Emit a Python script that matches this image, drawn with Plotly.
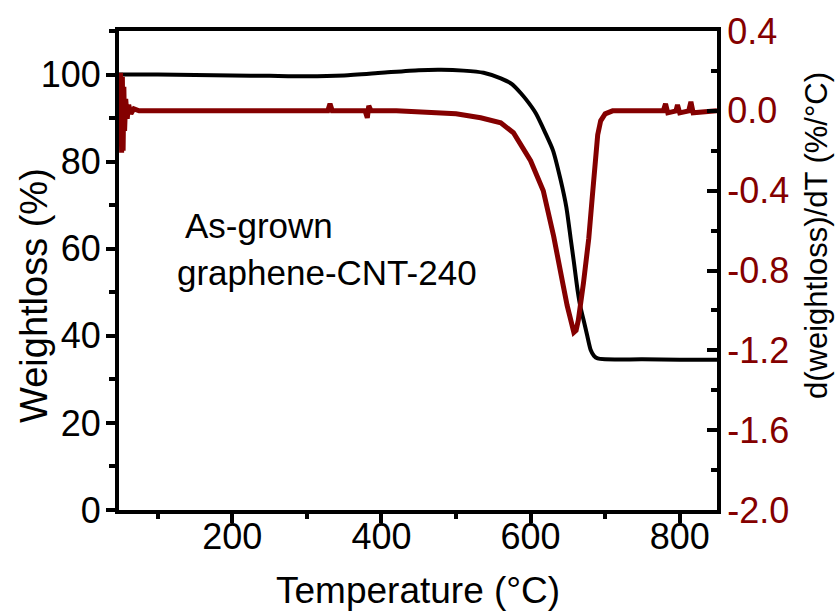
import plotly.graph_objects as go

# TGA weight curve (left axis)
temp_w = [48, 100, 150, 200, 250, 300, 350, 400, 450, 480, 510, 537, 560, 575,
          587, 597, 607, 620, 630, 640, 648, 654, 658, 663, 667, 671, 676, 680.5,
          685, 690, 700, 750, 800, 850]
weight = [100.0, 100.0, 99.9, 99.8, 99.7, 99.6, 99.8, 100.4, 101.0, 101.1, 100.9,
          100.4, 99.1, 97.8, 95.7, 93.6, 91.1, 86.5, 82.6, 76.0, 69.5, 62.0, 57.0,
          50.5, 46.5, 43.7, 40.0, 36.8, 35.4, 34.8, 34.6, 34.6, 34.5, 34.5]

# Derivative curve (right axis)
temp_d = [48, 50, 51.5, 52.5, 53.5, 54.5, 55.5, 57, 59, 61, 64, 68, 75, 100, 150,
          200, 250, 300, 328, 331, 334, 378, 381, 383, 386, 420, 463, 500, 533,
          560, 577, 591, 600, 617, 631, 644, 647, 649, 652, 655, 658, 661, 664,
          671, 678, 683, 687, 690, 694, 700, 710, 750, 778, 781, 784, 795, 797,
          800, 812, 815, 818, 850]
deriv = [-0.05, 0.19, -0.21, 0.17, -0.2, 0.12, -0.1, 0.06, -0.04, 0.03, -0.015,
         0.01, 0.0, 0.0, 0.002, 0.0, 0.0, 0.0, 0.0, 0.035, 0.0, 0.0, -0.035, 0.025,
         0.0, 0.0, -0.005, -0.015, -0.035, -0.06, -0.11, -0.19, -0.25, -0.4,
         -0.63, -0.88, -0.96, -0.975, -1.02, -1.07, -1.11, -1.1, -1.05, -0.86,
         -0.64, -0.42, -0.22, -0.12, -0.05, -0.015, 0.0, 0.0, 0.0, 0.035, -0.01,
         0.0, 0.03, -0.01, 0.0, 0.045, -0.01, 0.0]

x_ticks = [200, 400, 600, 800]
left_ticks = [0, 20, 40, 60, 80, 100]
right_ticks = [-2.0, -1.6, -1.2, -0.8, -0.4, 0.0, 0.4]

DARK_RED = "#840000"
FONT = "Liberation Sans, Arial, sans-serif"

W, H = 837, 612
ML, MR, MT, MB = 119, 120, 31, 102

fig = go.Figure()
fig.add_trace(go.Scatter(x=temp_w, y=weight, mode="lines",
                         line=dict(color="black", width=4, shape="spline", smoothing=0.6),
                         yaxis="y", showlegend=False))
fig.add_trace(go.Scatter(x=temp_d, y=deriv, mode="lines",
                         line=dict(color=DARK_RED, width=5),
                         yaxis="y2", showlegend=False))

axis_common = dict(showline=True, linecolor="black", linewidth=4, showgrid=False,
                   zeroline=False, tickcolor="black", tickwidth=3.5)

TICK_SIZE = 36
fig.update_layout(
    width=W, height=H,
    margin=dict(l=ML, r=MR, t=MT, b=MB),
    paper_bgcolor="white", plot_bgcolor="white",
    font=dict(family=FONT, color="black", size=TICK_SIZE),
    xaxis=dict(range=[48, 850], tickvals=x_ticks, ticks="outside", ticklen=9,
               mirror=True, ticklabelstandoff=-17,
               minor=dict(dtick=100, tick0=0, ticks="outside", ticklen=5,
                          tickwidth=3.5, tickcolor="black"),
               tickfont=dict(size=TICK_SIZE), **axis_common),
    yaxis=dict(range=[0, 110], tickvals=left_ticks, ticks="outside", ticklen=9,
               ticklabelstandoff=-2,
               minor=dict(dtick=10, tick0=0, ticks="outside", ticklen=6,
                          tickwidth=3.5, tickcolor="black"),
               tickfont=dict(size=TICK_SIZE), **axis_common),
    yaxis2=dict(range=[-2.0, 0.4], tickvals=right_ticks,
                ticktext=[f"{v:.1f}" for v in right_ticks],
                overlaying="y", side="right", ticks="inside", ticklen=10,
                ticklabelstandoff=-1,
                minor=dict(dtick=0.2, tick0=0, ticks="inside", ticklen=6,
                           tickwidth=3.5, tickcolor="black"),
                tickfont=dict(size=TICK_SIZE, color=DARK_RED), **axis_common),
)

# text placed by pixel position on the page, converted to paper coordinates
annotations = [
    dict(text="Temperature (°C)", x=418, y=590, font=dict(size=37)),
    dict(text="Weightloss (%)", x=34, y=296, textangle=-90, font=dict(size=38)),
    dict(text="d(weightloss)/dT (%/°C)", x=816, y=236, textangle=-90, font=dict(size=31)),
    dict(text="As-grown", x=183, y=226, xanchor="left", font=dict(size=35)),
    dict(text="graphene-CNT-240", x=175, y=272, xanchor="left", font=dict(size=35)),
]
pw, ph = W - ML - MR, H - MT - MB
for a in annotations:
    px, py = a.pop("x"), a.pop("y")
    fig.add_annotation(x=(px - ML) / pw, y=(H - MB - py) / ph,
                       xref="paper", yref="paper",
                       showarrow=False, xanchor=a.pop("xanchor", "center"),
                       yanchor="middle", **a)

fig.write_html("out.html")
